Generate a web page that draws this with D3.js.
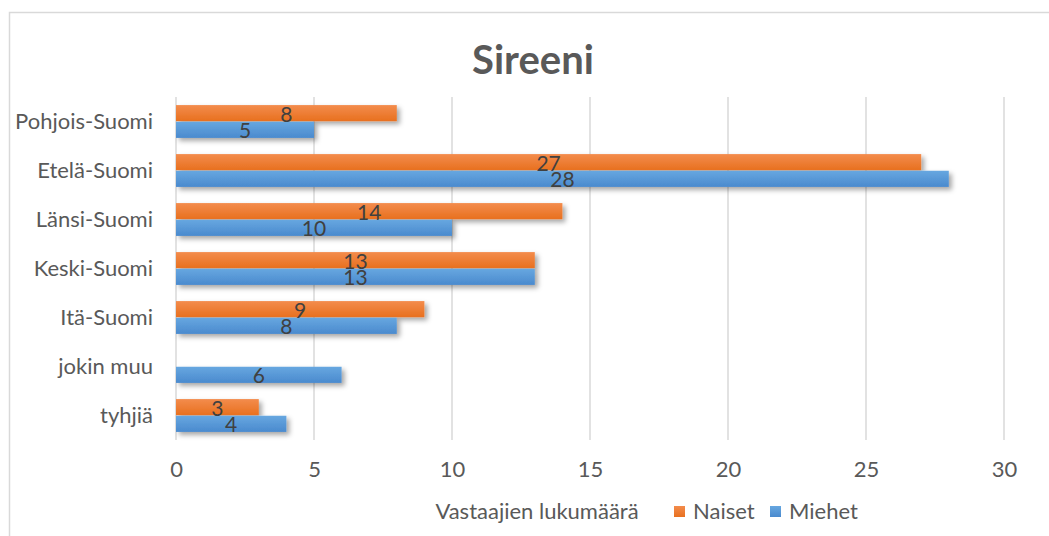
<!DOCTYPE html>
<html><head><meta charset="utf-8">
<script src="https://cdn.jsdelivr.net/npm/d3@7/dist/d3.min.js"></script>
<style>body{margin:0;background:#fff}svg{display:block}text{font-family:Lato,"Noto Sans",sans-serif}</style>
</head><body>
<script>
const categories = ["Pohjois-Suomi","Etelä-Suomi","Länsi-Suomi","Keski-Suomi","Itä-Suomi","jokin muu","tyhjiä"];
const naiset = [8,27,14,13,9,null,3];
const miehet = [5,28,10,13,8,6,4];
const xTicks = [0,5,10,15,20,25,30];
const seriesNames = ["Naiset","Miehet"];
const title = "Sireeni";
const axisTitle = "Vastaajien lukumäärä";

const W=1049,H=536;
const svg=d3.select("body").append("svg").attr("width",W).attr("height",H);
const defs=svg.append("defs");
function grad(id,c1,c2){const g=defs.append("linearGradient").attr("id",id).attr("x1",0).attr("y1",0).attr("x2",0).attr("y2",1);
 g.append("stop").attr("offset","0%").attr("stop-color",c1);g.append("stop").attr("offset","100%").attr("stop-color",c2);}
grad("gO","#F38C4C","#E8701F");grad("gB","#67A7E0","#4A8ACE");
const f=defs.append("filter").attr("id","sh").attr("x","-10%").attr("y","-30%").attr("width","130%").attr("height","200%");
f.append("feDropShadow").attr("dx",3).attr("dy",3).attr("stdDeviation",2.5).attr("flood-color","#000").attr("flood-opacity",0.35);

svg.append("rect").attr("x",9.5).attr("y",12.5).attr("width",1100).attr("height",600).attr("fill","#fff").attr("stroke","#d9d9d9").attr("stroke-width",1.5);

const x=d3.scaleLinear().domain([0,30]).range([176,1004]);
const y=d3.scaleBand().domain(categories).range([97,440]).paddingInner(0.33).paddingOuter(0.165);
const inner=d3.scaleBand().domain(seriesNames).range([0,y.bandwidth()]).paddingInner(0.03);

svg.append("g").selectAll("line").data(xTicks).join("line")
 .attr("x1",d=>x(d)).attr("x2",d=>x(d)).attr("y1",97).attr("y2",440)
 .attr("stroke","#d9d9d9").attr("stroke-width",1.5);

const xAxis=svg.append("g").attr("transform","translate(0,458)").call(d3.axisBottom(x).tickValues(xTicks).tickSize(0).tickFormat(d3.format("d")));
xAxis.select(".domain").remove();
xAxis.selectAll("text").attr("font-size",22).attr("fill","#595959").attr("dy","0.71em").attr("font-family","Lato,sans-serif");

const yAxis=svg.append("g").attr("transform","translate(153,0)").call(d3.axisLeft(y).tickSize(0).tickPadding(0));
yAxis.select(".domain").remove();
yAxis.selectAll("text").attr("font-size",22).attr("fill","#595959").attr("font-family","Lato,sans-serif");

const data=[];
categories.forEach((c,i)=>{
 if(naiset[i]!=null)data.push({c,s:"Naiset",v:naiset[i]});
 if(miehet[i]!=null)data.push({c,s:"Miehet",v:miehet[i]});
});
const bars=svg.append("g").attr("filter","url(#sh)");
bars.selectAll("rect").data(data).join("rect")
 .attr("x",x(0)).attr("y",d=>y(d.c)+inner(d.s)).attr("width",d=>x(d.v)-x(0)).attr("height",inner.bandwidth())
 .attr("fill",d=>d.s==="Naiset"?"url(#gO)":"url(#gB)");
svg.append("g").selectAll("text").data(data).join("text")
 .attr("x",d=>(x(0)+x(d.v))/2).attr("y",d=>y(d.c)+inner(d.s)+inner.bandwidth()/2+1)
 .attr("dy","0.35em").attr("text-anchor","middle").attr("font-size",21).attr("fill","#404040").text(d=>d.v);

svg.append("text").attr("x",533).attr("y",74).attr("text-anchor","middle").attr("font-size",40).attr("font-weight","bold").attr("fill","#595959").text(title);
svg.append("text").attr("x",537).attr("y",519).attr("text-anchor","middle").attr("font-size",22).attr("fill","#595959").text(axisTitle);

const leg=[{n:"Naiset",f:"url(#gO)",x:674},{n:"Miehet",f:"url(#gB)",x:770}];
const lg=svg.append("g").selectAll("g").data(leg).join("g");
lg.append("rect").attr("x",d=>d.x).attr("y",506).attr("width",11).attr("height",11).attr("fill",d=>d.f);
lg.append("text").attr("x",d=>d.x+19).attr("y",519).attr("font-size",22).attr("fill","#595959").text(d=>d.n);
</script>
</body></html>
